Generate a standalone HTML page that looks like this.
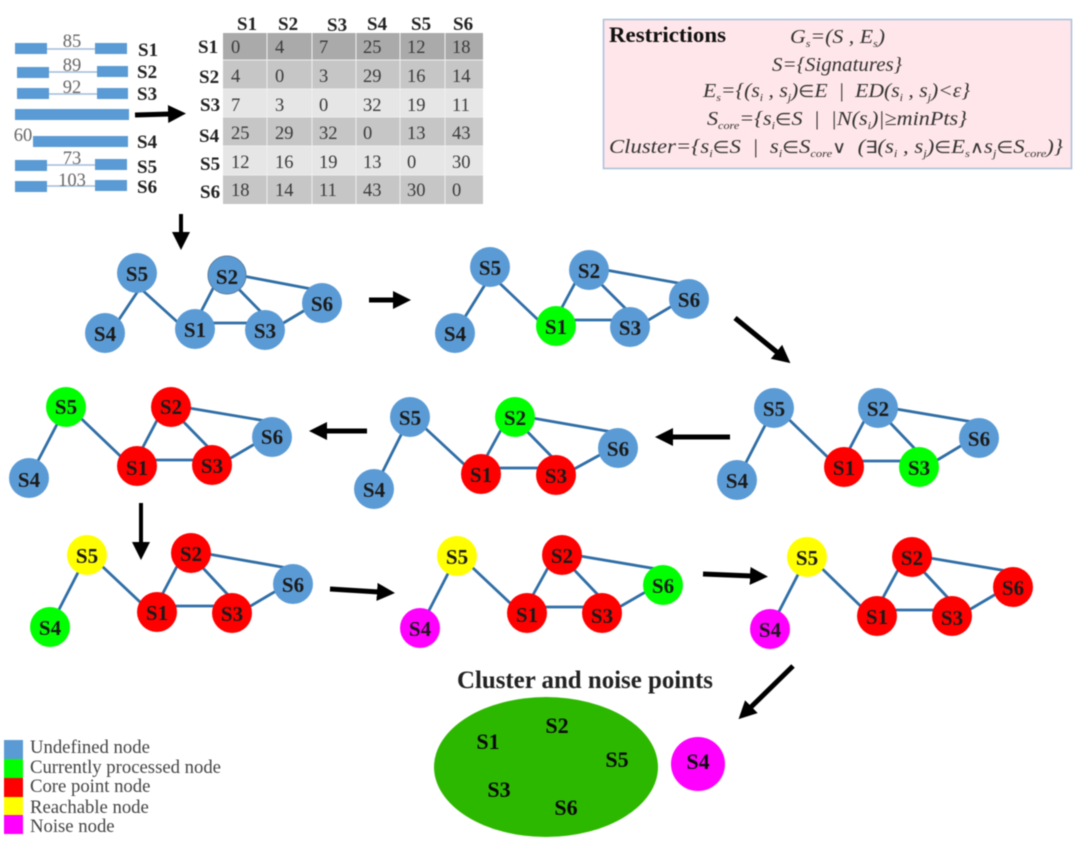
<!DOCTYPE html>
<html><head><meta charset="utf-8"><style>
html,body{margin:0;padding:0;background:#fff}
svg{display:block;filter:blur(.5px)}
text{font-family:"Liberation Serif",serif}
.n{font-weight:bold;font-size:21px;fill:#1a1a1a;text-anchor:middle}
.n2{font-weight:bold;font-size:22px;fill:#0a0a0a;text-anchor:middle}
.l{font-weight:bold;font-size:19px;fill:#222}
.c{font-size:18.5px;fill:#3a3a3a}
.e{stroke:#2f6ea6;stroke-width:2.8;fill:none}
.b{fill:#5b9bd5}
.bar{fill:#5b9bd5}
.t{stroke:#9fbcd8;stroke-width:1.5}
.d{font-size:18.5px;fill:#666;text-anchor:middle}
.m{font-size:20px;font-style:italic;fill:#333}
.u{font-style:normal;font-size:17px}
.g{font-size:18.7px;fill:#444}
.k{stroke:#000;stroke-width:5;fill:none}
</style></head><body>
<svg width="1077" height="852" viewBox="0 0 1077 852" xmlns="http://www.w3.org/2000/svg">
<rect width="1077" height="852" fill="#fff"/>
<defs><marker id="a" markerUnits="userSpaceOnUse" markerWidth="20" markerHeight="20" refX="2" refY="9" orient="auto"><path d="M0 0L18 9L0 18z" fill="#000"/></marker></defs>

<!-- signatures -->
<g>
<line class="t" x1="45" y1="49" x2="97" y2="49"/><rect class="bar" x="15" y="43" width="32" height="11"/><rect class="bar" x="95" y="43" width="32" height="11"/>
<line class="t" x1="47" y1="72" x2="98" y2="72"/><rect class="bar" x="17" y="67" width="32" height="11"/><rect class="bar" x="97" y="66" width="31" height="11"/>
<line class="t" x1="47" y1="94" x2="98" y2="94"/><rect class="bar" x="17" y="88" width="32" height="11"/><rect class="bar" x="97" y="88" width="31" height="11"/>
<rect class="bar" x="15" y="109" width="114" height="11"/>
<rect class="bar" x="33" y="136" width="95" height="11"/>
<line class="t" x1="45" y1="165" x2="97" y2="165"/><rect class="bar" x="15" y="160" width="32" height="11"/><rect class="bar" x="95" y="159" width="32" height="11"/>
<line class="t" x1="45" y1="186" x2="97" y2="186"/><rect class="bar" x="15" y="181" width="32" height="11"/><rect class="bar" x="95" y="180" width="32" height="11"/>
<text class="d" x="72" y="47">85</text><text class="d" x="72" y="71">89</text><text class="d" x="72" y="93">92</text><text class="d" x="23" y="141">60</text><text class="d" x="72" y="164">73</text><text class="d" x="72" y="186">103</text>
<text class="l" x="138" y="56">S1</text><text class="l" x="137" y="78">S2</text><text class="l" x="137" y="100">S3</text><text class="l" x="137" y="148">S4</text><text class="l" x="137" y="173">S5</text><text class="l" x="137" y="193">S6</text>
</g>

<!-- table -->
<g>
<rect x="223" y="33" width="260" height="27" fill="#aaaaaa"/>
<rect x="223" y="60" width="260" height="29" fill="#c6c6c6"/>
<rect x="223" y="89" width="260" height="28" fill="#e6e6e6"/>
<rect x="223" y="117" width="260" height="29" fill="#c6c6c6"/>
<rect x="223" y="146" width="260" height="29" fill="#e6e6e6"/>
<rect x="223" y="175" width="260" height="29" fill="#c6c6c6"/>
<path d="M267 33V204M312 33V204M356 33V204M400 33V204M445 33V204M223 60H483M223 89H483M223 117H483M223 146H483M223 175H483" stroke="#eee" stroke-width="1"/>
<g class="l"><text x="237" y="30">S1</text><text x="278" y="30">S2</text><text x="327" y="31">S3</text><text x="367" y="30">S4</text><text x="411" y="30">S5</text><text x="453" y="30">S6</text>
<text x="198" y="53">S1</text><text x="199" y="83">S2</text><text x="200" y="111">S3</text><text x="199" y="142">S4</text><text x="200" y="170">S5</text><text x="200" y="198">S6</text></g>
<g class="c">
<text x="231" y="53">0</text><text x="275" y="53">4</text><text x="319" y="53">7</text><text x="363" y="53">25</text><text x="407" y="53">12</text><text x="452" y="53">18</text>
<text x="231" y="82">4</text><text x="275" y="82">0</text><text x="319" y="82">3</text><text x="363" y="82">29</text><text x="407" y="82">16</text><text x="452" y="82">14</text>
<text x="231" y="111">7</text><text x="275" y="111">3</text><text x="319" y="111">0</text><text x="363" y="111">32</text><text x="407" y="111">19</text><text x="452" y="111">11</text>
<text x="231" y="139">25</text><text x="275" y="139">29</text><text x="319" y="139">32</text><text x="363" y="139">0</text><text x="407" y="139">13</text><text x="452" y="139">43</text>
<text x="231" y="168">12</text><text x="275" y="168">16</text><text x="319" y="168">19</text><text x="363" y="168">13</text><text x="407" y="168">0</text><text x="452" y="168">30</text>
<text x="231" y="196">18</text><text x="275" y="196">14</text><text x="319" y="196">11</text><text x="363" y="196">43</text><text x="407" y="196">30</text><text x="452" y="196">0</text>
</g>
</g>

<!-- restrictions -->
<rect x="603.5" y="19.5" width="468" height="149" fill="#ffe6ea" stroke="#a8c0d8" stroke-width="1.5"/>
<text x="609" y="42" fill="#111" font-weight="bold" textLength="117" lengthAdjust="spacingAndGlyphs" style="font-size:22px">Restrictions</text>
<text class="m" x="790" y="43" textLength="95" lengthAdjust="spacingAndGlyphs">G<tspan font-size="11" dy="4">s</tspan><tspan dy="-4">=(S , E</tspan><tspan font-size="11" dy="4">s</tspan><tspan dy="-4">)</tspan></text>
<text class="m" x="772" y="71" textLength="130" lengthAdjust="spacingAndGlyphs">S={Signatures}</text>
<text class="m" x="703" y="97" textLength="267" lengthAdjust="spacingAndGlyphs">E<tspan font-size="11" dy="4">s</tspan><tspan dy="-4">={(s</tspan><tspan font-size="11" dy="4">i</tspan><tspan dy="-4"> , s</tspan><tspan font-size="11" dy="4">j</tspan><tspan dy="-4">)</tspan><tspan class="u">∈</tspan>E&#160;&#160;|&#160;&#160;ED(s<tspan font-size="11" dy="4">i</tspan><tspan dy="-4"> , s</tspan><tspan font-size="11" dy="4">j</tspan><tspan dy="-4">)&lt;ε}</tspan></text>
<text class="m" x="707" y="125" textLength="260" lengthAdjust="spacingAndGlyphs">S<tspan font-size="11" dy="4">core</tspan><tspan dy="-4">={s</tspan><tspan font-size="11" dy="4">i</tspan><tspan dy="-4" class="u">∈</tspan>S&#160;&#160;|&#160;&#160;|N(s<tspan font-size="11" dy="4">i</tspan><tspan dy="-4">)|≥minPts}</tspan></text>
<text class="m" x="609" y="153" textLength="454" lengthAdjust="spacingAndGlyphs">Cluster={s<tspan font-size="11" dy="4">i</tspan><tspan dy="-4" class="u">∈</tspan>S&#160;&#160;|&#160;&#160;s<tspan font-size="11" dy="4">i</tspan><tspan dy="-4" class="u">∈</tspan>S<tspan font-size="11" dy="4">core</tspan><tspan dy="-4" class="u">∨</tspan>&#160;&#160;(<tspan class="u">∃</tspan>(s<tspan font-size="11" dy="4">i</tspan><tspan dy="-4"> , s</tspan><tspan font-size="11" dy="4">j</tspan><tspan dy="-4">)</tspan><tspan class="u">∈</tspan>E<tspan font-size="11" dy="4">s</tspan><tspan dy="-4" class="u">∧</tspan>s<tspan font-size="11" dy="4">j</tspan><tspan dy="-4" class="u">∈</tspan>S<tspan font-size="11" dy="4">core</tspan><tspan dy="-4">)}</tspan></text>

<!-- arrows -->
<g class="k">
<path d="M135 115L170 114" marker-end="url(#a)"/>
<path d="M181 214V234" marker-end="url(#a)" style="stroke-width:4"/>
<path d="M369 300H395" marker-end="url(#a)"/>
<path d="M735 318L778 353" marker-end="url(#a)"/>
<path d="M730 437H671" marker-end="url(#a)"/>
<path d="M367 431H325" marker-end="url(#a)"/>
<path d="M141 503V544" marker-end="url(#a)" style="stroke-width:4"/>
<path d="M330 589L379 592" marker-end="url(#a)"/>
<path d="M703 574L752 576" marker-end="url(#a)"/>
<path d="M793 666L750 708" marker-end="url(#a)"/>
</g>

<!-- G1 -->
<g>
<path class="e" d="M140 288L110 333M140 288L195 338M220 275L192 329M225 275L263 314M227 273L322 291M265 334L322 300M195 323H265"/>
<g class="b"><circle cx="137" cy="273" r="20"/><circle cx="227" cy="275" r="19.5"/><circle cx="322" cy="303" r="20"/><circle cx="105" cy="333" r="20"/><circle cx="195" cy="329" r="20"/><circle cx="265" cy="330" r="20"/></g>
<circle cx="227" cy="275" r="19" fill="none" stroke="#5f7f9c" stroke-width="1"/>
<text class="n" x="137" y="281">S5</text><text class="n" x="227" y="284">S2</text><text class="n" x="322" y="311">S6</text><text class="n" x="105" y="341">S4</text><text class="n" x="195" y="337">S1</text><text class="n" x="265" y="338">S3</text>
</g>
<!-- G2 -->
<g>
<path class="e" d="M496 267L455 333M490 274L556 337M582 270L552 326M587 270L628 311M589 267L689 285M630 331L689 296M556 320H630"/>
<circle cx="490" cy="267" r="20" class="b"/><circle cx="589" cy="270" r="20" class="b"/><circle cx="689" cy="299" r="20" class="b"/><circle cx="455" cy="333" r="20" class="b"/><circle cx="556" cy="326" r="20" fill="#00ff00"/><circle cx="630" cy="327" r="20" class="b"/>
<text class="n" x="490" y="275">S5</text><text class="n" x="589" y="278">S2</text><text class="n" x="689" y="307">S6</text><text class="n" x="455" y="341">S4</text><text class="n" x="556" y="334">S1</text><text class="n" x="630" y="335">S3</text>
</g>
<!-- G3 -->
<g>
<path class="e" d="M774 408L737 480M774 405L844 473M871 408L840 467M876 408L917 451M878 406L979 423M919 471L979 435M844 461H919"/>
<circle cx="774" cy="408" r="20" class="b"/><circle cx="878" cy="408" r="20" class="b"/><circle cx="979" cy="438" r="20" class="b"/><circle cx="737" cy="480" r="20" class="b"/><circle cx="844" cy="467" r="20" fill="#ff0000"/><circle cx="919" cy="467" r="20" fill="#00ff00"/>
<text class="n" x="774" y="416">S5</text><text class="n" x="878" y="416">S2</text><text class="n" x="979" y="446">S6</text><text class="n" x="737" y="488">S4</text><text class="n" x="844" y="475">S1</text><text class="n" x="919" y="475">S3</text>
</g>
<!-- G4 -->
<g>
<path class="e" d="M410 417L374 489M410 414L481 480M508 417L477 474M513 417L554 459M515 415L618 433M556 479L618 445M481 468H556"/>
<circle cx="410" cy="417" r="20" class="b"/><circle cx="515" cy="417" r="20" fill="#00ff00"/><circle cx="618" cy="448" r="20" class="b"/><circle cx="374" cy="489" r="20" class="b"/><circle cx="481" cy="474" r="20" fill="#ff0000"/><circle cx="556" cy="475" r="20" fill="#ff0000"/>
<text class="n" x="410" y="425">S5</text><text class="n" x="515" y="425">S2</text><text class="n" x="618" y="456">S6</text><text class="n" x="374" y="497">S4</text><text class="n" x="481" y="482">S1</text><text class="n" x="556" y="483">S3</text>
</g>
<!-- G5 -->
<g>
<path class="e" d="M66 407L29 478M66 404L137 472M164 407L133 466M169 407L210 449M171 405L272 422M212 469L272 434M137 460H212"/>
<circle cx="66" cy="407" r="20" fill="#00ff00"/><circle cx="171" cy="407" r="20" fill="#ff0000"/><circle cx="272" cy="437" r="20" class="b"/><circle cx="29" cy="478" r="20" class="b"/><circle cx="137" cy="466" r="20" fill="#ff0000"/><circle cx="212" cy="465" r="20" fill="#ff0000"/>
<text class="n" x="66" y="414">S5</text><text class="n" x="171" y="414">S2</text><text class="n" x="272" y="444">S6</text><text class="n" x="29" y="487">S4</text><text class="n" x="137" y="475">S1</text><text class="n" x="212" y="473">S3</text>
</g>
<!-- G6 -->
<g>
<path class="e" d="M87 555L50 627M87 552L157 618M184 553L153 612M189 553L230 597M191 551L293 569M232 617L293 581M157 606H232"/>
<circle cx="87" cy="555" r="20" fill="#ffff00"/><circle cx="191" cy="553" r="20" fill="#ff0000"/><circle cx="293" cy="584" r="20" class="b"/><circle cx="50" cy="627" r="20" fill="#00ff00"/><circle cx="157" cy="612" r="20" fill="#ff0000"/><circle cx="232" cy="613" r="20" fill="#ff0000"/>
<text class="n" x="87" y="563">S5</text><text class="n" x="191" y="561">S2</text><text class="n" x="293" y="592">S6</text><text class="n" x="50" y="635">S4</text><text class="n" x="157" y="620">S1</text><text class="n" x="232" y="621">S3</text>
</g>
<!-- G7 -->
<g>
<path class="e" d="M457 556L420 628M457 553L527 619M555 555L523 613M560 555L600 597M562 553L663 570M602 617L663 582M527 607H602"/>
<circle cx="457" cy="556" r="20" fill="#ffff00"/><circle cx="562" cy="555" r="20" fill="#ff0000"/><circle cx="663" cy="585" r="20" fill="#00ff00"/><circle cx="420" cy="628" r="20" fill="#ff00ff"/><circle cx="527" cy="613" r="20" fill="#ff0000"/><circle cx="602" cy="613" r="20" fill="#ff0000"/>
<text class="n" x="457" y="564">S5</text><text class="n" x="562" y="563">S2</text><text class="n" x="663" y="593">S6</text><text class="n" x="420" y="636">S4</text><text class="n" x="527" y="622">S1</text><text class="n" x="602" y="623">S3</text>
</g>
<!-- G8 -->
<g>
<path class="e" d="M807 557L770 629M807 554L877 622M905 557L873 616M910 557L950 600M912 555L1013 572M952 620L1013 584M877 610H952"/>
<circle cx="807" cy="557" r="20" fill="#ffff00"/><circle cx="912" cy="557" r="20" fill="#ff0000"/><circle cx="1013" cy="587" r="20" fill="#ff0000"/><circle cx="770" cy="629" r="20" fill="#ff00ff"/><circle cx="877" cy="616" r="20" fill="#ff0000"/><circle cx="952" cy="616" r="20" fill="#ff0000"/>
<text class="n" x="807" y="565">S5</text><text class="n" x="912" y="565">S2</text><text class="n" x="1013" y="595">S6</text><text class="n" x="770" y="637">S4</text><text class="n" x="877" y="624">S1</text><text class="n" x="952" y="625">S3</text>
</g>

<!-- cluster -->
<text x="457" y="688" fill="#222" font-weight="bold" textLength="256" lengthAdjust="spacingAndGlyphs" style="font-size:25px">Cluster and noise points</text>
<ellipse cx="546" cy="767" rx="112" ry="70" fill="#2db800"/>
<text class="n2" x="488" y="749">S1</text><text class="n2" x="557" y="733">S2</text><text class="n2" x="617" y="767">S5</text><text class="n2" x="499" y="797">S3</text><text class="n2" x="566" y="815">S6</text>
<circle cx="698" cy="764" r="27" fill="#ff00ff"/>
<text class="n2" x="698" y="769">S4</text>

<!-- legend -->
<rect x="4" y="740" width="19" height="19" fill="#5b9bd5"/>
<rect x="4" y="759" width="19" height="19" fill="#00ff00"/>
<rect x="4" y="778" width="19" height="19" fill="#ff0000"/>
<rect x="4" y="797" width="19" height="18" fill="#ffff00"/>
<rect x="4" y="815" width="19" height="19" fill="#ff00ff"/>
<text class="g" x="30" y="753">Undefined node</text>
<text class="g" x="30" y="773">Currently processed node</text>
<text class="g" x="30" y="792">Core point node</text>
<text class="g" x="30" y="813">Reachable node</text>
<text class="g" x="30" y="832">Noise node</text>
</svg>
</body></html>
